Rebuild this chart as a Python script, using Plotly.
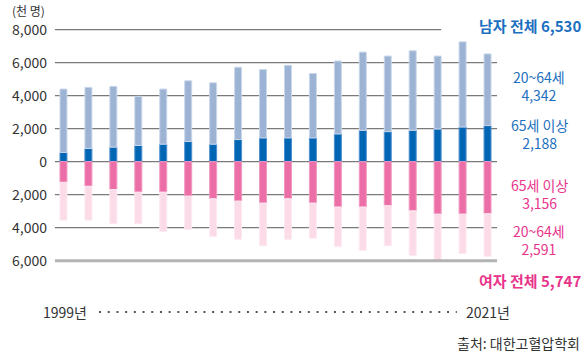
import plotly.graph_objects as go

# ---- data (thousand persons) ----
years = ["1998", "2001", "2005", "2007", "2008", "2009", "2010", "2011", "2012",
         "2013", "2014", "2015", "2016", "2017", "2018", "2019", "2020", "2021"]
male_65plus = [560, 800, 880, 980, 1060, 1220, 1060, 1340, 1440, 1440, 1440, 1680,
               1900, 1820, 1900, 1980, 2100, 2188]
male_20_64 = [3840, 3700, 3680, 2980, 3340, 3680, 3720, 4380, 4140, 4400, 3900, 4420,
              4740, 4580, 4820, 4420, 5160, 4342]
female_65plus = [1250, 1490, 1690, 1850, 1850, 2090, 2250, 2390, 2510, 2250, 2510, 2750,
                 2750, 2670, 2980, 3180, 3180, 3156]
female_20_64 = [2290, 2050, 2070, 1910, 2390, 2010, 2290, 2310, 2580, 2450, 2130, 2400,
                2620, 2420, 2710, 2810, 2390, 2591]
y_tickvals = [-6000, -4000, -2000, 0, 2000, 4000, 6000, 8000]
y_ticktext = ["6,000", "4,000", "2,000", "0", "2,000", "4,000", "6,000", "8,000"]

FONT = "Noto Sans CJK KR"
C_MALE65 = "#0066b3"
C_MALE2064 = "#9db3d4"
C_FEM65 = "#ec6ea6"
C_FEM2064 = "#fcdbe8"
C_BLUE_TXT = "#1c6fc0"
C_PINK_TXT = "#e8348b"

W, H = 585, 354
ML, MR, MT, MB = 42, 85, 28, 90
PW, PH = W - ML - MR, H - MT - MB


def px(xp):
    return (xp - ML) / PW


def py(yp):
    return (H - MB - yp) / PH


fig = go.Figure()
fig.add_bar(x=years, y=male_65plus, marker=dict(color=C_MALE65, line=dict(color="#4d8fd0", width=1)),
            name="남자 65세 이상")
fig.add_bar(x=years, y=male_20_64, marker=dict(color=C_MALE2064, line=dict(color="#c9d7ea", width=1)),
            name="남자 20~64세")
fig.add_bar(x=years, y=[-v for v in female_65plus],
            marker=dict(color=C_FEM65, line=dict(color="#f298c0", width=1)), name="여자 65세 이상")
fig.add_bar(x=years, y=[-v for v in female_20_64],
            marker=dict(color=C_FEM2064, line=dict(color="#fde9f1", width=1)), name="여자 20~64세")

shapes = []
for v in y_tickvals:
    if v == -6000:
        shapes.append(dict(type="line", xref="paper", yref="y", x0=px(46), x1=px(497), y0=v, y1=v,
                           line=dict(color="#b3b3b3", width=3), layer="above"))
    elif v == 8000:
        shapes.append(dict(type="line", xref="paper", yref="y", x0=px(46), x1=px(440), y0=v, y1=v,
                           line=dict(color="#7a7a7a", width=1.2), layer="below"))
    else:
        shapes.append(dict(type="line", xref="paper", yref="y", x0=px(46), x1=px(497), y0=v, y1=v,
                           line=dict(color="#7a7a7a", width=1.2), layer="below"))
# dotted timeline
shapes.append(dict(type="line", xref="paper", yref="paper", x0=px(91), x1=px(456), y0=py(312), y1=py(312),
                   line=dict(color="#555555", width=2, dash="2px,6.7px")))

male_total = male_65plus[-1] + male_20_64[-1]
female_total = female_65plus[-1] + female_20_64[-1]

ann = []


def add(text, x, y, color, size=14, bold=False, xanchor="center", yanchor="middle"):
    t = f"<b>{text}</b>" if bold else text
    ann.append(dict(text=t, x=px(x), y=py(y), xref="paper", yref="paper", showarrow=False,
                    xanchor=xanchor, yanchor=yanchor, font=dict(family=FONT, size=size, color=color)))


add(f"남자 전체 {male_total:,}", 585, 25, C_BLUE_TXT, 15, True, "right")
add(f"20~64세<br>{male_20_64[-1]:,}", 540, 86, C_BLUE_TXT)
add(f"65세 이상<br>{male_65plus[-1]:,}", 540, 134, C_BLUE_TXT)
add(f"65세 이상<br>{female_65plus[-1]:,}", 540, 194, C_PINK_TXT)
add(f"20~64세<br>{female_20_64[-1]:,}", 540, 240, C_PINK_TXT)
add(f"여자 전체 {female_total:,}", 585, 280, C_PINK_TXT, 15, True, "right")
add("1999년", 56, 312, "#333333", 14)
add(f"{years[-1]}년", 488, 312, "#333333", 14)
add("출처: 대한고혈압학회", 584, 343, "#333333", 14, False, "right")
add("(천 명)", 0, 0, "#333333", 12, False, "left", "top")

fig.update_layout(
    width=W, height=H, margin=dict(l=ML, r=MR, t=MT, b=MB),
    barmode="relative", bargap=0.72, showlegend=False,
    paper_bgcolor="white", plot_bgcolor="white",
    font=dict(family=FONT, color="#333333"),
    xaxis=dict(visible=False, range=[-0.5, len(years) - 0.5]),
    yaxis=dict(range=[-6200, 8100], tickvals=y_tickvals, ticktext=y_ticktext, showgrid=False,
               zeroline=False, showline=False, ticks="", ticklabelstandoff=3,
               tickfont=dict(family=FONT, size=14, color="#333333")),
    shapes=shapes, annotations=ann,
)

fig.write_html("out.html")
